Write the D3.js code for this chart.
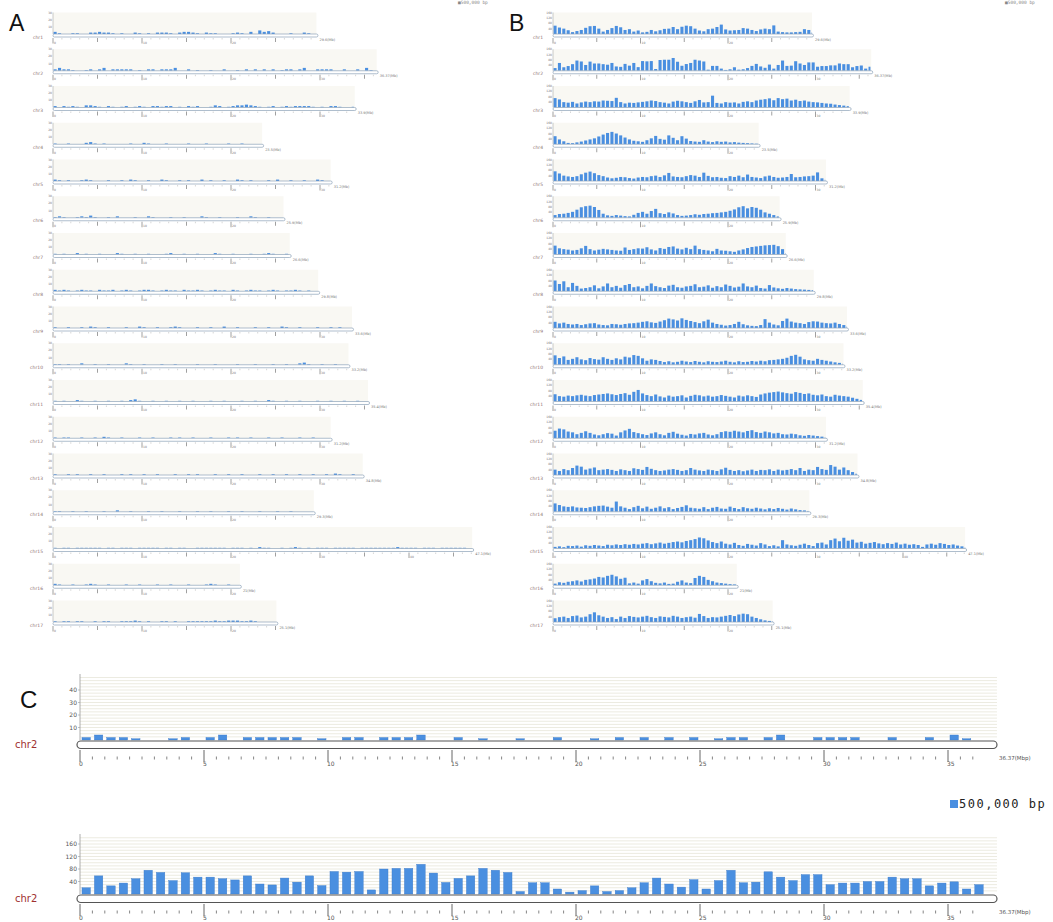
<!DOCTYPE html>
<html lang="en">
<head>
<meta charset="UTF-8">
<title>Marker density along chromosomes</title>
<script src="https://d3js.org/d3.v7.min.js"></script>
<style>
  body { margin: 0; background: white; }
  svg { display: block; background: white; }
  .letter { font-family: "Liberation Sans", Arial, sans-serif; fill: #111; }
  .tiny { font-family: "DejaVu Sans", sans-serif; fill: #777; }
  .chrlab { font-family: "DejaVu Sans", sans-serif; fill: #a03030; }
  .legend { font-family: "DejaVu Sans Mono", monospace; fill: #222; }
</style>
</head>
<body>
<script>
// ---- data ----
const binSize = 0.5;           // Mb per bin (500,000 bp)
const chr2Length = 36.37;
const legendLabel = "500,000 bp";

const chromNames = ["chr1","chr2","chr3","chr4","chr5","chr6","chr7","chr8","chr9",
  "chr10","chr11","chr12","chr13","chr14","chr15","chr16","chr17"];
const chromLengths = [29.6, 36.37, 33.9, 23.5, 31.2, 25.9, 26.6, 29.8, 33.6,
  33.2, 35.4, 31.2, 34.8, 29.3, 47.1, 21.0, 25.1];

// chr2, panel C top (sparse marker set)
const chr2Sparse = [2,4,2,2,1,0,0,1,2,0, 2,4,0,2,2,2,2,2,0,1, 0,2,2,0,2,2,2,4,0,0,
  2,0,1,0,0,1,0,0,2,0, 0,1,0,2,0,2,0,2,0,2, 0,1,2,2,0,2,4,0,0,2,
  2,2,2,0,0,2,0,0,2,0, 4,1,0];
// chr2, panel C bottom (dense marker set)
const chr2Dense = [20,58,26,35,49,76,69,43,68,54, 54,49,45,58,32,29,51,38,58,27,
  72,70,72,13,80,82,82,95,67,37, 50,58,82,76,69,8,36,36,16,6,
  11,26,8,11,20,36,51,32,22,46, 16,43,76,36,38,71,54,43,62,62,
  30,35,35,40,40,54,49,49,26,35, 39,16,30];

const sparseCounts = [
  [3,1,0,0,1,1,0,0,2,2,3,2,2,1,0,1,0,0,2,1,0,1,0,2,2,2,1,0,2,3,3,2,1,0,2,1,1,0,0,0,1,2,1,0,3,0,5,3,4,2,0,0,0,1,0,0,2,1,0,0],
  chr2Sparse,
  [2,0,2,1,2,1,0,3,3,2,1,0,2,1,0,1,2,0,1,2,1,0,2,2,1,2,2,0,1,0,2,1,2,0,0,1,3,2,0,1,2,3,3,4,3,2,1,0,1,2,0,1,2,1,2,2,2,2,1,0,1,0,2,2,1,0,0,1],
  [1,0,0,1,0,0,0,2,3,1,0,1,0,0,0,0,0,1,0,0,2,1,0,0,0,1,0,0,0,0,1,0,0,0,1,0,0,0,0,1,0,0,1,0,0,0,0],
  [2,1,0,1,0,0,1,2,1,0,0,0,1,0,0,1,0,2,1,0,0,1,0,0,2,1,0,0,1,0,1,0,0,2,0,1,0,0,1,0,0,2,1,0,1,0,0,0,1,0,2,0,0,1,0,0,1,0,0,2,1,0,0],
  [1,2,1,0,0,1,2,1,3,1,0,0,1,0,2,0,0,0,1,0,0,2,1,0,0,0,1,0,0,1,0,0,0,2,1,0,0,1,0,0,0,1,0,0,2,1,0,0,1,0,0,0],
  [1,0,1,0,0,2,0,1,0,0,1,0,0,0,2,1,0,0,1,0,0,1,0,0,0,1,2,0,0,1,0,0,1,0,0,0,2,1,0,0,1,0,0,0,1,0,0,1,2,1,0,0,1,0],
  [2,1,2,1,0,1,2,1,1,0,2,1,1,2,0,1,2,1,0,1,2,2,1,0,1,2,1,1,0,2,1,1,2,1,0,1,2,1,1,0,2,1,0,1,2,1,1,0,1,2,1,0,1,1,2,1,0,1,0,0],
  [1,0,0,1,0,0,1,0,2,1,0,0,1,0,0,0,1,0,0,2,1,0,0,1,0,0,1,2,1,0,0,0,1,0,0,1,0,0,2,0,0,1,0,0,0,1,0,0,1,0,0,2,1,0,0,1,0,0,0,1,0,0,1,0,1,0,0,0],
  [1,1,0,1,0,0,2,0,0,1,0,0,1,0,0,0,2,1,0,0,1,0,0,0,1,0,0,1,0,0,0,0,1,0,0,0,1,0,0,0,0,1,0,0,0,1,0,0,0,1,0,0,1,0,0,2,3,1,0,0,1,0,0,1,0,0,0],
  [1,0,1,0,0,2,1,0,0,1,0,0,1,0,0,1,0,2,3,1,0,0,1,0,0,1,0,0,1,0,0,1,0,0,0,1,0,0,1,0,0,0,1,0,0,1,0,0,2,1,0,0,1,0,0,1,0,0,0,1,0,0,1,0,0,1,0,0,1,0,0],
  [1,0,1,1,0,0,1,0,0,1,0,2,1,0,0,1,0,0,0,1,0,0,1,0,0,0,1,0,1,0,0,1,0,0,0,1,0,0,0,1,0,1,0,0,1,0,0,0,1,0,0,1,0,0,0,1,0,0,1,0,0,0,0],
  [1,0,0,1,0,1,0,0,1,0,0,1,0,0,0,1,0,1,0,0,1,0,0,1,0,0,0,1,0,0,1,0,1,0,0,0,1,0,0,1,0,0,1,0,0,0,1,0,0,1,0,0,1,0,0,1,0,0,1,0,0,1,0,2,1,0,0,1,0,0],
  [1,1,0,0,1,0,0,1,0,0,0,1,0,0,2,0,0,1,0,0,0,1,0,0,1,0,0,0,1,0,0,0,1,0,0,1,0,0,0,1,0,0,1,0,0,0,1,0,0,0,1,0,0,1,0,0,0,0,0],
  [1,0,1,1,0,1,1,1,1,1,1,0,1,1,0,1,1,1,0,1,1,1,1,1,0,1,1,0,1,1,0,0,1,1,1,1,1,1,1,0,1,1,1,0,1,0,2,1,1,0,0,1,0,1,2,1,0,1,0,1,1,1,0,1,1,1,1,1,0,1,1,1,1,1,1,1,1,2,1,1,1,1,0,1,1,1,0,1,1,1,1,1,1,0,0],
  [2,1,0,0,1,0,0,1,2,1,0,0,1,0,0,0,1,0,0,1,0,0,0,1,0,0,1,0,0,0,1,0,0,0,1,2,1,0,0,1,0,0],
  [1,0,1,1,0,1,1,0,0,1,0,1,1,0,0,1,1,1,2,1,0,1,0,0,1,1,0,1,0,0,1,1,1,1,1,1,2,1,1,2,2,2,1,1,2,1,0,0,0,0,0]
];

const denseCounts = [
  [62,48,40,28,14,22,30,46,58,60,40,18,30,44,60,50,30,36,18,26,12,16,30,20,28,38,40,52,36,54,62,58,40,26,20,36,40,52,70,34,26,28,30,44,40,30,22,34,40,36,64,18,14,12,12,14,16,36,30,12],
  chr2Dense,
  [70,60,40,36,42,30,38,44,40,46,44,52,50,48,72,40,30,36,34,38,42,46,52,48,40,36,30,44,50,46,40,34,46,56,38,40,88,34,30,40,36,38,30,42,46,40,52,58,62,68,54,70,62,66,52,58,48,52,44,40,38,34,30,28,22,18,14,10],
  [60,36,22,10,8,14,20,28,36,44,58,72,84,92,80,66,50,36,26,22,18,30,44,62,40,34,66,48,30,60,42,24,20,18,30,20,16,22,18,20,14,16,12,10,8,6,4],
  [72,56,40,34,30,36,50,62,70,58,44,36,26,20,24,30,28,22,18,26,30,28,36,40,30,42,60,34,30,28,36,44,40,30,62,38,28,30,24,22,36,30,40,28,48,30,26,22,34,40,30,24,26,30,52,28,30,34,36,40,64,20,10],
  [20,28,30,36,44,60,78,86,90,80,58,30,18,14,20,16,12,10,22,36,44,30,50,66,34,28,40,32,20,14,16,20,26,22,28,30,34,36,40,44,52,62,78,86,70,80,74,60,40,30,20,10],
  [66,46,40,36,30,34,46,64,40,30,36,42,38,34,30,28,52,34,40,46,44,54,38,30,48,42,56,60,44,38,50,40,66,40,34,30,24,42,30,28,24,20,30,38,48,56,60,64,68,70,72,62,40,10],
  [80,54,74,30,62,40,20,24,30,44,22,36,58,30,40,26,46,54,30,36,22,40,58,38,30,24,42,48,30,26,36,40,52,30,34,44,26,38,30,50,40,28,34,58,36,30,42,24,20,46,28,22,18,24,20,16,14,12,10,8],
  [46,34,40,30,26,30,22,28,34,36,26,22,20,30,28,24,30,34,36,40,46,50,42,38,48,58,70,64,56,72,60,52,44,36,50,62,40,30,24,18,22,30,46,28,20,16,14,22,66,40,26,20,52,70,48,40,36,30,44,50,48,40,36,34,40,30,22,12],
  [70,50,62,36,44,56,40,34,50,42,38,56,44,36,48,40,60,54,72,66,48,30,40,36,28,20,26,18,22,30,24,20,28,22,18,26,22,20,24,30,22,18,26,20,22,28,24,30,26,34,36,40,44,52,66,74,60,40,34,30,44,36,30,24,18,14,8],
  [54,40,36,44,40,46,50,44,40,48,52,56,60,54,48,56,62,50,72,86,60,48,40,52,38,30,44,36,40,46,30,42,50,46,38,44,36,40,48,42,36,30,44,38,46,40,34,52,60,66,70,74,68,62,58,70,64,56,60,50,46,52,40,36,50,44,40,36,28,20,12],
  [56,72,66,50,44,30,40,52,40,28,22,30,38,34,20,44,58,70,46,38,30,24,36,44,30,22,40,48,34,26,20,32,28,36,40,28,22,30,46,52,48,56,50,44,54,60,46,40,50,44,36,40,30,28,34,30,22,18,24,20,16,12,8],
  [40,30,44,36,52,70,62,40,48,56,36,40,44,38,30,42,36,30,50,44,38,60,46,36,30,34,40,44,38,30,36,52,40,34,30,40,36,30,42,54,38,30,36,28,34,40,30,38,36,42,30,40,34,38,44,36,52,30,40,36,60,44,38,74,62,40,56,36,22,10],
  [62,50,40,36,40,32,30,28,34,40,44,46,38,30,76,40,30,20,34,44,26,38,22,30,40,26,34,20,28,36,48,30,26,22,34,20,30,36,24,22,38,28,20,34,26,22,30,24,18,26,20,28,22,16,24,18,12,10,6],
  [12,16,10,20,18,22,14,24,20,26,22,18,28,24,30,26,32,28,34,30,36,40,32,38,44,36,42,48,52,46,56,62,70,82,76,60,48,40,52,36,30,42,26,20,34,28,22,40,30,18,24,16,62,30,24,20,28,36,26,18,40,44,30,62,74,54,80,58,66,44,50,36,42,48,38,32,40,34,44,30,36,28,32,26,12,30,36,28,40,34,26,30,22,16,10],
  [12,22,18,26,30,36,28,40,44,50,62,58,70,78,66,48,56,14,20,12,36,46,30,18,14,20,10,12,26,36,20,16,54,70,62,40,30,20,16,12,8,6],
  [28,36,40,30,44,48,34,40,58,72,50,40,30,36,22,40,30,44,38,34,40,46,36,30,42,38,34,46,40,30,36,40,32,60,44,30,36,34,40,46,52,44,56,62,58,40,30,20,12,8,6]
];

const sparseTicks = [10, 20, 30, 40];
const denseTicks = [40, 80, 120, 160];

// ---- drawing ----
const width = 1053, height = 922;
const barColor = "#4a8fe0";
const svg = d3.select("body").append("svg")
  .attr("width", width).attr("height", height)
  .attr("viewBox", `0 0 ${width} ${height}`);

// small legend remnants at the very top edge
svg.append("text").attr("class", "legend").attr("x", 458).attr("y", 4)
  .style("font-size", "4.5px").style("fill", "#888").text("\u25A0" + legendLabel);
svg.append("text").attr("class", "legend").attr("x", 1005).attr("y", 4)
  .style("font-size", "4.5px").style("fill", "#888").text("\u25A0" + legendLabel);

// panel letters
svg.append("text").attr("class", "letter").attr("x", 9).attr("y", 31).style("font-size", "23px").text("A");
svg.append("text").attr("class", "letter").attr("x", 509).attr("y", 31).style("font-size", "23px").text("B");
svg.append("text").attr("class", "letter").attr("x", 20).attr("y", 708).style("font-size", "24px").text("C");

const rowBase = i => 35.5 + i * 36.75;

function miniRow(name, len, counts, x0, k, base, yMax, yTicks) {
  const g = svg.append("g");
  const x = d3.scaleLinear().domain([0, len]).range([x0, x0 + len * k]);
  const y = d3.scaleLinear().domain([0, yMax]).range([base - 1.5, base - 23]);
  const bw = x(binSize) - x(0);

  // faint plotting area
  g.append("rect")
    .attr("x", x(0)).attr("y", y(yMax))
    .attr("width", x(len) - x(0)).attr("height", y(0) - y(yMax))
    .attr("fill", "#f9f8f3");

  // bars
  g.selectAll("rect.bar")
    .data(counts)
    .join("rect")
    .attr("class", "bar")
    .attr("x", (d, i) => x(i * binSize) + bw * 0.12)
    .attr("width", (d, i) => Math.max(0.4, Math.min(x((i + 1) * binSize), x(len)) - x(i * binSize) - bw * 0.3))
    .attr("y", d => y(d))
    .attr("height", d => y(0) - y(d))
    .attr("fill", barColor);

  // y axis
  g.append("line")
    .attr("x1", x0).attr("x2", x0)
    .attr("y1", y(0)).attr("y2", y(yMax))
    .attr("stroke", "#aaa").attr("stroke-width", 0.6);
  g.selectAll("text.yl")
    .data(yTicks)
    .join("text")
    .attr("class", "tiny yl")
    .attr("x", x0 - 1).attr("y", d => y(d))
    .attr("dy", "0.35em").attr("text-anchor", "end")
    .style("font-size", "3px")
    .text(d => d);

  // chromosome outline
  g.append("rect")
    .attr("x", x(0)).attr("y", base - 1.5)
    .attr("width", x(len) - x(0) + 1.5).attr("height", 3).attr("rx", 1.5)
    .attr("fill", "white").attr("stroke", "#8da2b8").attr("stroke-width", 0.7);

  // position ticks
  g.selectAll("line.xt")
    .data(d3.range(0, len, 1))
    .join("line")
    .attr("class", "xt")
    .attr("x1", d => x(d)).attr("x2", d => x(d))
    .attr("y1", base + 2.5)
    .attr("y2", d => base + (d % 10 === 0 ? 8 : d % 5 === 0 ? 6.5 : 4))
    .attr("stroke", d => d % 5 === 0 ? "#888" : "#bbb")
    .attr("stroke-width", d => d % 5 === 0 ? 0.8 : 0.6);
  g.selectAll("text.xl")
    .data(d3.range(0, len, 10))
    .join("text")
    .attr("class", "tiny xl")
    .attr("x", d => x(d) + 1).attr("y", base + 8)
    .style("font-size", "3px")
    .text(d => d);

  // labels
  g.append("text").attr("class", "tiny")
    .attr("x", x0 - 10).attr("y", base + 3)
    .attr("text-anchor", "end")
    .style("font-size", "4.5px").style("fill", "#8c7070")
    .text(name);
  g.append("text").attr("class", "tiny")
    .attr("x", x(len) + 3).attr("y", base + 5)
    .style("font-size", "3.5px")
    .text(`${len}(Mb)`);
}

chromNames.forEach((name, i) => {
  miniRow(name, chromLengths[i], sparseCounts[i], 53, 8.9, rowBase(i), 30, [10, 20, 30]);
  miniRow(name, chromLengths[i], denseCounts[i], 553, 8.75, rowBase(i), 160, denseTicks);
});

function bigChart(counts, base, top, yMax, yTicks, gridStep) {
  const g = svg.append("g");
  const x = d3.scaleLinear().domain([0, chr2Length]).range([80, 80 + chr2Length * 24.8]);
  const y = d3.scaleLinear().domain([0, yMax]).range([base, top]);
  const xEnd = x(chr2Length) + 15;
  const bw = x(binSize) - x(0);

  // striped background grid
  g.selectAll("line.grid")
    .data(d3.range(gridStep, yMax, gridStep))
    .join("line")
    .attr("class", "grid")
    .attr("x1", x(0)).attr("x2", xEnd)
    .attr("y1", d => y(d)).attr("y2", d => y(d))
    .attr("stroke", "#ecebe1").attr("stroke-width", 1);

  // y axis
  g.append("line")
    .attr("x1", x(0)).attr("x2", x(0))
    .attr("y1", base).attr("y2", top - 2)
    .attr("stroke", "#999").attr("stroke-width", 0.8);
  g.selectAll("line.ytick")
    .data(yTicks)
    .join("line")
    .attr("class", "ytick")
    .attr("x1", x(0) - 2).attr("x2", x(0))
    .attr("y1", d => y(d)).attr("y2", d => y(d))
    .attr("stroke", "#999").attr("stroke-width", 0.6);
  g.selectAll("text.ylab")
    .data(yTicks)
    .join("text")
    .attr("class", "tiny ylab")
    .attr("x", x(0) - 3).attr("y", d => y(d))
    .attr("dy", "0.35em").attr("text-anchor", "end")
    .style("font-size", "6px").style("fill", "#555")
    .text(d => d);

  // bars
  g.selectAll("rect.bar")
    .data(counts)
    .join("rect")
    .attr("class", "bar")
    .attr("x", (d, i) => x(i * binSize) + bw * 0.16)
    .attr("width", bw * 0.68)
    .attr("y", d => y(d))
    .attr("height", d => y(0) - y(d))
    .attr("fill", barColor)
    .attr("stroke", "#3f7cc8").attr("stroke-width", 0.4);

  // chromosome
  const rTop = base + 1;
  const rH = 7.5;
  g.append("rect")
    .attr("x", x(0) - 3).attr("y", rTop)
    .attr("width", xEnd - x(0) + 3).attr("height", rH).attr("rx", rH / 2)
    .attr("fill", "white").attr("stroke", "#555").attr("stroke-width", 1.2);

  // position axis
  const rBot = rTop + rH;
  const minor = d3.range(0, chr2Length, binSize).filter(d => d % 5 !== 0);
  g.selectAll("line.minor")
    .data(minor)
    .join("line")
    .attr("class", "minor")
    .attr("x1", d => x(d)).attr("x2", d => x(d))
    .attr("y1", rBot + 8).attr("y2", rBot + 11)
    .attr("stroke", "#666").attr("stroke-width", 0.8);
  const major = d3.range(0, chr2Length, 5);
  g.selectAll("line.major")
    .data(major)
    .join("line")
    .attr("class", "major")
    .attr("x1", d => x(d)).attr("x2", d => x(d))
    .attr("y1", rBot + 1.5).attr("y2", rBot + 13.5)
    .attr("stroke", "#555").attr("stroke-width", 0.9);
  g.selectAll("text.xlab")
    .data(major)
    .join("text")
    .attr("class", "tiny xlab")
    .attr("x", d => x(d) - 1).attr("y", rBot + 17.5)
    .style("font-size", "6px").style("fill", "#555")
    .text(d => d);
  g.append("text").attr("class", "tiny")
    .attr("x", xEnd + 2).attr("y", rBot + 11)
    .style("font-size", "5.5px").style("fill", "#555")
    .text(`${chr2Length}(Mbp)`);

  // chromosome name
  g.append("text").attr("class", "chrlab")
    .attr("x", 15).attr("y", base + 8)
    .style("font-size", "10px")
    .text("chr2");
}

bigChart(chr2Sparse, 740, 676, 51.2, sparseTicks, 2.5);
bigChart(chr2Dense, 894, 836, 185.6, denseTicks, 10);

// legend
const legend = svg.append("g").attr("transform", "translate(950,800)");
legend.append("rect").attr("width", 8).attr("height", 8).attr("fill", barColor);
legend.append("text").attr("class", "legend")
  .attr("x", 9).attr("y", 8)
  .style("font-size", "12px").style("letter-spacing", "1.5px")
  .text(legendLabel);
</script>
</body>
</html>
